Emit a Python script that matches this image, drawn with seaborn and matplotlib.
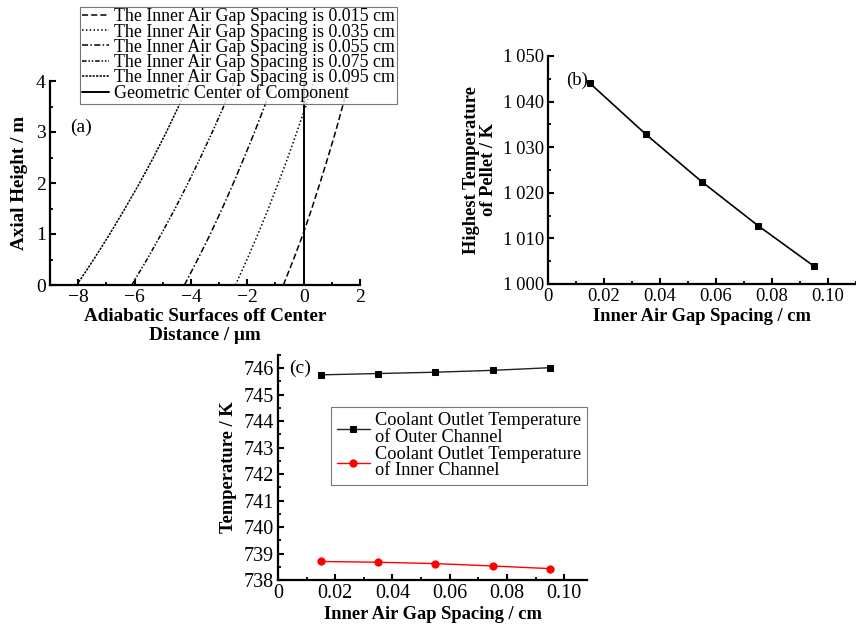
import numpy as np
import pandas as pd
import matplotlib
matplotlib.use("Agg")
import matplotlib.pyplot as plt
import seaborn as sns
from matplotlib.ticker import MultipleLocator, FuncFormatter

# ---------------- data ----------------
# Panel (a): axial height vs adiabatic-surface offset (um)
heights = [0.0, 0.5, 1.0, 1.5, 2.0, 2.5, 3.0, 3.5, 4.0]
offset_015 = [-0.72, -0.36, -0.02, 0.29, 0.58, 0.86, 1.13, 1.38, 1.62]
offset_035 = [-2.42, -2.01, -1.62, -1.25, -0.90, -0.56, -0.24, 0.07, 0.37]
offset_055 = [-4.23, -3.76, -3.31, -2.89, -2.49, -2.11, -1.74, -1.39, -1.06]
offset_075 = [-6.10, -5.56, -5.05, -4.56, -4.10, -3.66, -3.24, -2.84, -2.46]
offset_095 = [-8.05, -7.45, -6.88, -6.34, -5.82, -5.33, -4.87, -4.44, -4.03]
center_x = [0.0, 0.0]
center_y = [0.0, 4.0]
curve_labels = ["The Inner Air Gap Spacing is 0.015 cm",
                "The Inner Air Gap Spacing is 0.035 cm",
                "The Inner Air Gap Spacing is 0.055 cm",
                "The Inner Air Gap Spacing is 0.075 cm",
                "The Inner Air Gap Spacing is 0.095 cm"]
center_label = "Geometric Center of Component"

# Panel (b)/(c): gap spacing (cm)
gap = [0.015, 0.035, 0.055, 0.075, 0.095]
pellet_max_T = [1044.0, 1032.8, 1022.4, 1012.8, 1003.9]
outer_T = [745.75, 745.80, 745.85, 745.92, 746.02]
inner_T = [738.70, 738.67, 738.62, 738.53, 738.43]
outer_label = "Coolant Outlet Temperature\nof Outer Channel"
inner_label = "Coolant Outlet Temperature\nof Inner Channel"

# ---------------- style ----------------
sns.set_theme(style="ticks")
plt.rcParams["font.family"] = ["Liberation Serif", "DejaVu Serif"]
plt.rcParams.update({
    "axes.linewidth": 1.6,
    "xtick.direction": "in", "ytick.direction": "in",
    "xtick.major.size": 4.5, "ytick.major.size": 4.5,
    "xtick.minor.size": 2.5, "ytick.minor.size": 2.5,
    "xtick.major.width": 1.5, "ytick.major.width": 1.5,
    "xtick.minor.width": 1.3, "ytick.minor.width": 1.3,
    "xtick.labelsize": 14, "ytick.labelsize": 14,
    "axes.labelsize": 13.3, "axes.labelweight": "bold",
    "axes.edgecolor": "black", "xtick.color": "black", "ytick.color": "black",
    "text.color": "black", "axes.labelcolor": "black",
})

W, H = 856, 628
fig = plt.figure(figsize=(W / 100, H / 100), dpi=100)

def frac(l, r, t, b):
    return [l / W, 1 - b / H, (r - l) / W, (b - t) / H]

ax_a = fig.add_axes(frac(50, 360, 81, 285))
ax_b = fig.add_axes(frac(548, 856, 56, 284))
ax_c = fig.add_axes(frac(278, 587, 355, 580))

for ax in (ax_a, ax_b, ax_c):
    sns.despine(ax=ax)
    ax.tick_params(which="both", pad=3)

# ---------------- panel (a) ----------------
styles = [(0, (4, 2)), (0, (1, 1.5)), (0, (4, 1.5, 1, 1.5)),
          (0, (3, 1.2, 1, 1.2, 1, 1.2)), (0, (1.5, 0.8))]
series = [offset_015, offset_035, offset_055, offset_075, offset_095]
for xs, lab, ls in zip(series, curve_labels, styles):
    df = pd.DataFrame({"x": xs, "y": heights})
    sns.lineplot(data=df, x="x", y="y", ax=ax_a, sort=False, estimator=None,
                 color="black", linewidth=1.1, linestyle=ls, label=lab)
sns.lineplot(x=center_x, y=center_y, ax=ax_a, sort=False, estimator=None,
             color="black", linewidth=1.4, label=center_label)
ax_a.set_xlim(-9, 2)
ax_a.set_ylim(0, 4)
ax_a.xaxis.set_major_locator(MultipleLocator(2))
ax_a.xaxis.set_minor_locator(MultipleLocator(1))
ax_a.yaxis.set_major_locator(MultipleLocator(1))
ax_a.yaxis.set_minor_locator(MultipleLocator(0.5))
ax_a.xaxis.set_major_formatter(FuncFormatter(lambda v, p: f"{v:.0f}".replace("-", "\u2212")))
ax_a.set_xlabel("Adiabatic Surfaces off Center\nDistance / \u03bcm", labelpad=1,
                linespacing=1.2, fontsize=13.8)
ax_a.set_ylabel("Axial Height / m", labelpad=6, fontsize=13.8)
ax_a.text(0.065, 0.775, "(a)", transform=ax_a.transAxes, fontsize=14, va="center")
leg_a = ax_a.legend(loc="upper left", bbox_to_anchor=(0.097, 1.365), fontsize=12.9,
                    frameon=True, fancybox=False, edgecolor="#555555",
                    borderaxespad=0, borderpad=0.1, labelspacing=-0.1,
                    handlelength=1.5, handletextpad=0.3)
leg_a.get_frame().set_linewidth(0.8)
leg_a.set_zorder(10)

# ---------------- panel (b) ----------------
sns.lineplot(x=gap, y=pellet_max_T, ax=ax_b, color="black", marker="s",
             markersize=4.2, linewidth=1.2, markeredgecolor="black")
ax_b.set_xlim(0, 0.11)
ax_b.set_ylim(1000, 1050)
ax_b.xaxis.set_major_locator(MultipleLocator(0.02))
ax_b.xaxis.set_minor_locator(MultipleLocator(0.01))
ax_b.yaxis.set_major_locator(MultipleLocator(10))
ax_b.yaxis.set_minor_locator(MultipleLocator(5))
ax_b.tick_params(labelsize=13.3)
ax_b.xaxis.set_major_formatter(FuncFormatter(lambda v, p: "0" if abs(v) < 1e-9 else f"{v:.2f}"))
ax_b.yaxis.set_major_formatter(FuncFormatter(lambda v, p: f"{int(round(v)):,}".replace(",", "\u2009")))
ax_b.set_xlabel("Inner Air Gap Spacing / cm", labelpad=2)
ax_b.set_ylabel("Highest Temperature\nof Pellet / K", labelpad=4, linespacing=1.0)
ax_b.text(0.058, 0.895, "(b)", transform=ax_b.transAxes, fontsize=13.5, va="center")

# ---------------- panel (c) ----------------
sns.lineplot(x=gap, y=outer_T, ax=ax_c, color="#222222", marker="s",
             markersize=4.6, linewidth=1.0, markeredgecolor="black",
             markerfacecolor="black", label=outer_label)
sns.lineplot(x=gap, y=inner_T, ax=ax_c, color="red", marker="o",
             markersize=5.2, linewidth=1.0, markeredgecolor="red", label=inner_label)
ax_c.set_xlim(0, 0.108)
ax_c.set_ylim(738, 746.5)
ax_c.xaxis.set_major_locator(MultipleLocator(0.02))
ax_c.xaxis.set_minor_locator(MultipleLocator(0.01))
ax_c.yaxis.set_major_locator(MultipleLocator(1))
ax_c.yaxis.set_minor_locator(MultipleLocator(0.5))
ax_c.tick_params(labelsize=14.5)
ax_c.xaxis.set_major_formatter(FuncFormatter(lambda v, p: "0" if abs(v) < 1e-9 else f"{v:.2f}"))
ax_c.yaxis.set_major_formatter(FuncFormatter(lambda v, p: f"{v:.0f}"))
ax_c.set_xlabel("Inner Air Gap Spacing / cm", labelpad=2)
ax_c.set_ylabel("Temperature / K", labelpad=5)
ax_c.text(0.035, 0.942, "(c)", transform=ax_c.transAxes, fontsize=14, va="center")
leg_c = ax_c.legend(loc="upper right", bbox_to_anchor=(1.0, 0.769), fontsize=13.2,
                    frameon=True, fancybox=False, edgecolor="#555555",
                    borderaxespad=0, borderpad=0.3, labelspacing=0.0,
                    handlelength=1.8, handletextpad=0.3)
leg_c.get_frame().set_linewidth(0.8)
for t in leg_c.get_texts():
    t.set_linespacing(0.95)

fig.savefig("out.png", dpi=100)
